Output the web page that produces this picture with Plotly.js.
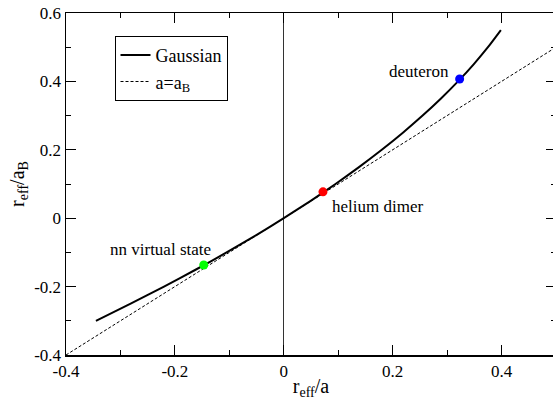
<!DOCTYPE html>
<html>
<head>
<meta charset="utf-8">
<script src="https://cdn.plot.ly/plotly-3.0.1.min.js"></script>
<style>html,body{margin:0;padding:0;overflow:hidden;background:#fff;}</style>
</head>
<body>
<div id="chart" style="width:557px;height:400px;"></div>
<script>
// Gaussian curve: r_eff/a (x) vs r_eff/a_B (y)
const gaussX = [-0.345, -0.28125, -0.22, -0.16125, -0.105, -0.05125, 0, 0.04875, 0.095, 0.13875, 0.18, 0.21875, 0.255, 0.28875, 0.32, 0.34875, 0.375, 0.39875];
const gaussY = [-0.30, -0.25, -0.20, -0.15, -0.10, -0.05, 0, 0.05, 0.10, 0.15, 0.20, 0.25, 0.30, 0.35, 0.40, 0.45, 0.50, 0.55];
// a = a_B reference line
const lineX = [-0.4, 0.5];
const lineY = [-0.4, 0.5];
// physical systems
const pointNames = ["nn virtual state", "helium dimer", "deuteron"];
const pointX = [-0.147, 0.072, 0.323];
const pointY = [-0.137, 0.077, 0.407];
const pointColors = ["#00ff00", "#ff0000", "#0000ff"];

const font = '"Liberation Serif", "Times New Roman", Times, serif';

const traces = [
  {x: gaussX, y: gaussY, mode: "lines", name: "Gaussian", line: {color: "#000", width: 2, shape: "spline", smoothing: 0.6}},
  {x: lineX, y: lineY, mode: "lines", name: "a=a<sub>B</sub>", line: {color: "#000", width: 1, dash: "3px,2px"}},
  {x: pointX, y: pointY, mode: "markers", showlegend: false,
   marker: {color: pointColors, size: 9, line: {width: 0}}}
];

const annotations = [
  {x: pointX[0] - 0.08, y: pointY[0] + 0.045, text: pointNames[0], xanchor: "center", yanchor: "middle"},
  {x: pointX[1] + 0.012, y: pointY[1] - 0.042, text: pointNames[1], xanchor: "left", yanchor: "middle"},
  {x: pointX[2] - 0.016, y: pointY[2] + 0.022, text: pointNames[2], xanchor: "right", yanchor: "middle"}
].map(a => Object.assign(a, {xref: "x", yref: "y", showarrow: false, font: {family: font, size: 17, color: "#000"}}));

const axisCommon = {
  showgrid: false, showline: true, linecolor: "#000", linewidth: 1.5, mirror: "allticks",
  ticks: "inside", ticklen: 10, tickwidth: 1, tickcolor: "#000",
  tickfont: {family: font, size: 17, color: "#000"},
  minor: {ticks: "inside", ticklen: 5, tickwidth: 1, tickcolor: "#000", dtick: 0.1, showgrid: false}
};

const layout = {
  width: 557, height: 400,
  margin: {l: 66, r: 1, t: 13, b: 45},
  paper_bgcolor: "#fff", plot_bgcolor: "#fff",
  font: {family: font, color: "#000"},
  showlegend: true,
  legend: {x: 0.099, y: 0.933, xanchor: "left", yanchor: "top", bordercolor: "#000", borderwidth: 1,
           bgcolor: "#fff", font: {family: font, size: 18, color: "#000"}, tracegroupgap: 0},
  xaxis: Object.assign({}, axisCommon, {
    range: [-0.4, 0.5], tickvals: [-0.4, -0.2, 0, 0.2, 0.4], ticktext: ["-0.4", "-0.2", "0", "0.2", "0.4"],
    zeroline: true, zerolinecolor: "#333", zerolinewidth: 1,
    title: {text: "r<sub>eff</sub>/a", font: {family: font, size: 20, color: "#000"}, standoff: 2}
  }),
  yaxis: Object.assign({}, axisCommon, {
    range: [-0.4, 0.6], tickvals: [-0.4, -0.2, 0, 0.2, 0.4, 0.6], ticktext: ["-0.4", "-0.2", "0", "0.2", "0.4", "0.6"],
    zeroline: false,
    title: {text: "r<sub>eff</sub>/a<sub>B</sub>", font: {family: font, size: 20, color: "#000"}, standoff: 4}
  }),
  annotations: annotations
};

Plotly.newPlot("chart", traces, layout, {displayModeBar: false, staticPlot: true});
</script>
</body>
</html>
